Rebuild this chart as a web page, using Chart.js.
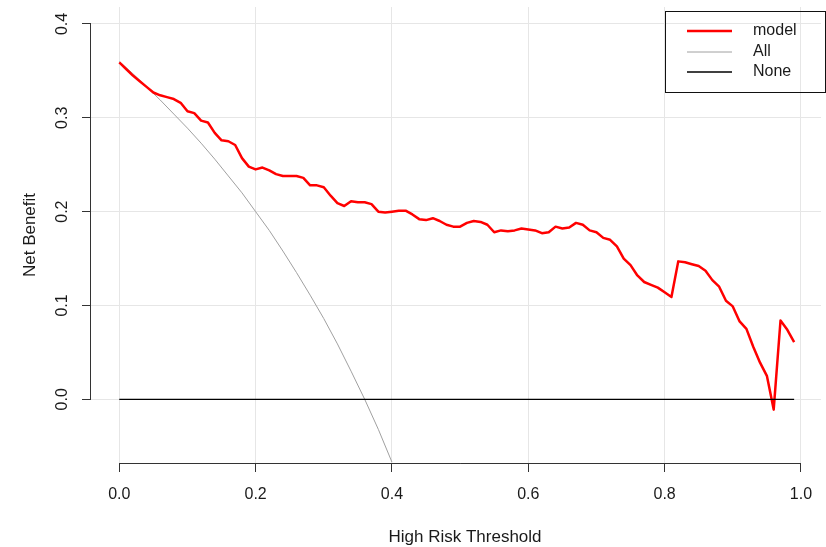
<!DOCTYPE html>
<html><head><meta charset="utf-8">
<script src="https://cdn.jsdelivr.net/npm/chart.js@4.4.0/dist/chart.umd.min.js"></script>
<style>html,body{margin:0;padding:0;background:#fff;} #wrap{width:826px;height:547px;}</style>
</head><body><div id="wrap"><canvas id="c" width="826" height="547"></canvas></div>
<script>
// ---- data ----
const thresholds = [0.00,0.01,0.02,0.03,0.04,0.05,0.06,0.07,0.08,0.09,
  0.10,0.11,0.12,0.13,0.14,0.15,0.16,0.17,0.18,0.19,
  0.20,0.21,0.22,0.23,0.24,0.25,0.26,0.27,0.28,0.29,
  0.30,0.31,0.32,0.33,0.34,0.35,0.36,0.37,0.38,0.39,
  0.40,0.41,0.42,0.43,0.44,0.45,0.46,0.47,0.48,0.49,
  0.50,0.51,0.52,0.53,0.54,0.55,0.56,0.57,0.58,0.59,
  0.60,0.61,0.62,0.63,0.64,0.65,0.66,0.67,0.68,0.69,
  0.70,0.71,0.72,0.73,0.74,0.75,0.76,0.77,0.78,0.79,
  0.80,0.81,0.82,0.83,0.84,0.85,0.86,0.87,0.88,0.89,
  0.90,0.91,0.92,0.93,0.94,0.95,0.96,0.97,0.98,0.99];
const modelNB = [0.359,0.352,0.345,0.339,0.333,0.327,0.324,0.322,0.320,0.316,
  0.307,0.305,0.297,0.295,0.284,0.276,0.275,0.271,0.257,0.248,
  0.245,0.247,0.244,0.240,0.238,0.238,0.238,0.236,0.228,0.228,
  0.226,0.217,0.209,0.206,0.211,0.210,0.210,0.208,0.200,0.199,
  0.200,0.201,0.201,0.197,0.192,0.191,0.193,0.190,0.186,0.184,
  0.184,0.188,0.190,0.189,0.186,0.178,0.180,0.179,0.180,0.182,
  0.181,0.180,0.177,0.178,0.184,0.182,0.183,0.188,0.186,0.180,
  0.178,0.172,0.170,0.163,0.150,0.143,0.132,0.125,0.122,0.119,
  0.114,0.109,0.147,0.146,0.144,0.142,0.137,0.127,0.120,0.105,
  0.099,0.083,0.075,0.056,0.039,0.025,-0.011,0.084,0.074,0.061];
const allThresholds = [0.00,0.02,0.04,0.06,0.08,0.10,0.12,0.14,0.16,0.18,0.20,
  0.22,0.24,0.26,0.28,0.30,0.32,0.34,0.36,0.38,0.40];
const allNB = [0.360,0.347,0.333,0.319,0.304,0.289,0.273,0.256,0.238,0.220,0.200,
  0.180,0.158,0.135,0.111,0.086,0.059,0.030,0.000,-0.032,-0.067];
const noneThresholds = [0.00,0.99];
const noneNB = [0,0];
const xTickValues = [0,0.2,0.4,0.6,0.8,1.0];
const yTickValues = [0,0.1,0.2,0.3,0.4];
const seriesNames = ['model','All','None'];
const xTitle = 'High Risk Threshold';
const yTitle = 'Net Benefit';

const FONT = "'Liberation Sans', Arial, Helvetica, sans-serif";
Chart.defaults.font.family = FONT;
const TXT = '#1a1a1a';

const pts = (xs, ys) => xs.map((x, i) => ({x: x, y: ys[i]}));

const axisLines = {
  id: 'axisLines',
  afterDraw(chart) {
    const {ctx, chartArea} = chart;
    const xs = chart.scales.x, ys = chart.scales.y;
    ctx.save();
    ctx.strokeStyle = '#333';
    ctx.lineWidth = 1;
    ctx.beginPath();
    const by = chartArea.bottom + 0.5;
    ctx.moveTo(xs.getPixelForValue(xTickValues[0]), by);
    ctx.lineTo(xs.getPixelForValue(xTickValues[xTickValues.length-1]), by);
    const lx = Math.round(chartArea.left) - 0.5;
    ctx.moveTo(lx, ys.getPixelForValue(yTickValues[0]));
    ctx.lineTo(lx, ys.getPixelForValue(yTickValues[yTickValues.length-1]));
    ctx.stroke();
    // x axis title (R centres it slightly right of the Chart.js area centre)
    ctx.fillStyle = TXT;
    ctx.font = '17px ' + FONT;
    ctx.textAlign = 'center';
    ctx.textBaseline = 'alphabetic';
    ctx.fillText(xTitle, 465, 541.5);
    ctx.restore();
  }
};

const boxLegend = {
  id: 'boxLegend',
  afterDraw(chart) {
    const ctx = chart.ctx;
    const left = 665.5, top = 11.5, w = 160, h = 81;
    ctx.save();
    ctx.strokeStyle = '#111';
    ctx.lineWidth = 1;
    ctx.strokeRect(left, top, w, h);
    const rows = [31, 52, 72];
    chart.data.datasets.forEach((ds, i) => {
      const y = rows[i];
      ctx.beginPath();
      ctx.strokeStyle = ds.borderColor;
      ctx.lineWidth = ds.borderWidth;
      ctx.moveTo(687, y);
      ctx.lineTo(732, y);
      ctx.stroke();
      ctx.fillStyle = TXT;
      ctx.font = '16px ' + FONT;
      ctx.textBaseline = 'middle';
      ctx.textAlign = 'left';
      ctx.fillText(ds.label, 753, y);
    });
    ctx.restore();
  }
};

new Chart(document.getElementById('c'), {
  type: 'line',
  data: {
    datasets: [
      {label: seriesNames[0], data: pts(thresholds, modelNB), borderColor: '#ff0000', borderWidth: 2.5,
       pointRadius: 0, tension: 0, borderJoinStyle: 'round', order: 1},
      {label: seriesNames[1], data: pts(allThresholds, allNB), borderColor: '#a0a0a0', borderWidth: 1,
       pointRadius: 0, tension: 0, order: 2},
      {label: seriesNames[2], data: pts(noneThresholds, noneNB), borderColor: '#000000', borderWidth: 1.3,
       pointRadius: 0, tension: 0, order: 0}
    ]
  },
  options: {
    responsive: false,
    animation: false,
    devicePixelRatio: 1,
    layout: {padding: {top: 7, right: 5, left: 0, bottom: 0}},
    plugins: {legend: {display: false}, tooltip: {enabled: false}},
    scales: {
      x: {
        type: 'linear', min: -0.0415, max: 1.0294,
        afterBuildTicks: s => { s.ticks = xTickValues.map(v => ({value: v})); },
        afterFit: s => { s.height = 84; s.paddingLeft = 0; s.paddingRight = 0; },
        border: {display: false},
        grid: {color: '#e6e6e6', lineWidth: 1, tickColor: '#333', tickLength: 9, drawTicks: true},
        ticks: {font: {size: 16}, color: TXT, padding: 13, maxRotation: 0, minRotation: 0, autoSkip: false,
                callback: v => Number(v).toFixed(1)},
        title: {display: false}
      },
      y: {
        type: 'linear', min: -0.0679, max: 0.4181,
        afterBuildTicks: s => { s.ticks = yTickValues.map(v => ({value: v})); },
        afterFit: s => { s.width = 91; s.paddingTop = 0; s.paddingBottom = 0; },
        border: {display: false},
        grid: {color: '#e6e6e6', lineWidth: 1, tickColor: '#333', tickLength: 9, drawTicks: true},
        ticks: {font: {size: 16}, color: TXT, padding: 8, minRotation: 90, maxRotation: 90, crossAlign: 'center',
                autoSkip: false, callback: v => Number(v).toFixed(1)},
        title: {display: true, text: yTitle, font: {size: 17}, color: TXT, padding: {top: 20, bottom: 0}}
      }
    }
  },
  plugins: [axisLines, boxLegend]
});
</script>
</body></html>
